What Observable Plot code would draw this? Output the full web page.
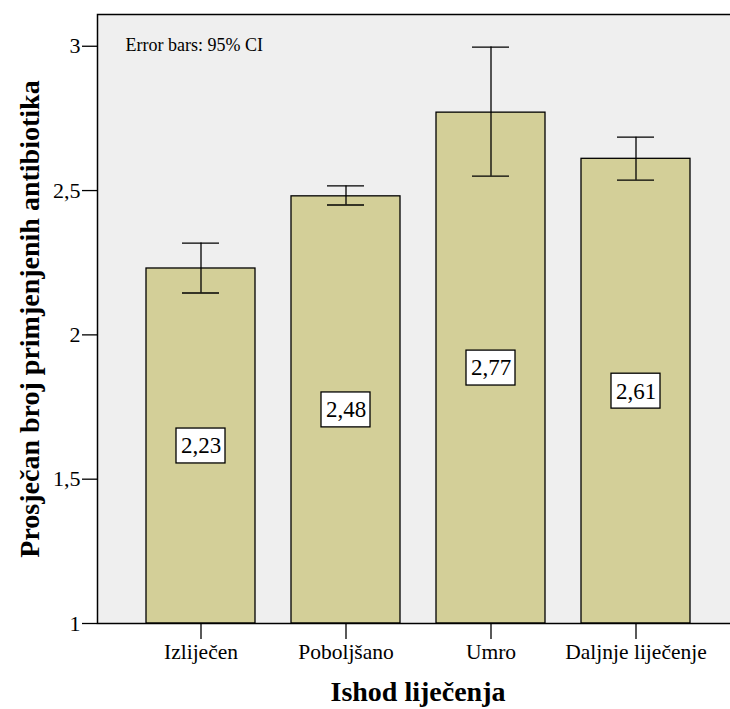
<!DOCTYPE html>
<html>
<head>
<meta charset="utf-8">
<script src="https://cdn.jsdelivr.net/npm/d3@7"></script>
<script src="https://cdn.jsdelivr.net/npm/@observablehq/plot@0.6"></script>
<style>
  html, body { margin: 0; padding: 0; background: #fff; }
</style>
</head>
<body>
<div id="chart"></div>
<script>
const categories = ["Izliječen", "Poboljšano", "Umro", "Daljnje liječenje"];
const means = [2.23, 2.48, 2.77, 2.61];
const ciLow = [2.145, 2.45, 2.55, 2.536];
const ciHigh = [2.318, 2.516, 2.997, 2.685];
const yTicks = [1, 1.5, 2, 2.5, 3];

const data = categories.map((c, i) => ({cat: c, mean: means[i], lo: ciLow[i], hi: ciHigh[i]}));
const fmt = v => String(v).replace(".", ",");
const FONT = "'Liberation Serif', 'Times New Roman', serif";
const boxHalf = 0.0605;

const chart = Plot.plot({
  width: 730,
  height: 709,
  marginLeft: 97,
  marginRight: -8,
  marginTop: 14,
  marginBottom: 86,
  style: {fontFamily: FONT, color: "black", background: "white"},
  x: {domain: categories, paddingInner: 0.25, paddingOuter: 0.335},
  y: {domain: [1, 3.11]},
  marks: [
    Plot.frame({fill: "#efefef", stroke: null}),
    Plot.barY(data, {x: "cat", y1: 1, y2: "mean", fill: "#d3cf98", stroke: "black", strokeWidth: 1.3}),
    Plot.ruleX(data, {x: "cat", y1: "lo", y2: "hi", stroke: "black", strokeWidth: 1.3}),
    Plot.tickY(data, {x: "cat", y: "lo", insetLeft: 36, insetRight: 36, stroke: "black", strokeWidth: 1.3}),
    Plot.tickY(data, {x: "cat", y: "hi", insetLeft: 36, insetRight: 36, stroke: "black", strokeWidth: 1.3}),
    Plot.barY(data, {x: "cat", y1: d => (1 + d.mean) / 2 - boxHalf, y2: d => (1 + d.mean) / 2 + boxHalf, insetLeft: 30, insetRight: 30, fill: "white", stroke: "black", strokeWidth: 1.3}),
    Plot.text(data, {x: "cat", y: d => (1 + d.mean) / 2, text: d => fmt(d.mean), fontSize: 23, fill: "black"}),
    Plot.text(["Error bars: 95% CI"], {frameAnchor: "top-left", dx: 28, dy: 31, lineAnchor: "middle", textAnchor: "start", fontSize: 18, fill: "black"}),
    Plot.axisY({ticks: yTicks, tickFormat: fmt, tickSize: 15, tickPadding: 2, fontSize: 22, label: null, strokeWidth: 1.3}),
    Plot.axisX({tickSize: 16, tickPadding: 4, fontSize: 21.5, label: null, strokeWidth: 1.3}),
    Plot.text(["Prosječan broj primjenjenih antibiotika"], {frameAnchor: "left", dx: -67, rotate: -90, textAnchor: "middle", lineAnchor: "middle", fontSize: 28, fontWeight: "bold", fill: "black"}),
    Plot.text(["Ishod liječenja"], {frameAnchor: "bottom", dy: 69, lineAnchor: "middle", fontSize: 28, fontWeight: "bold", fill: "black"}),
    Plot.frame({stroke: "black", strokeWidth: 1.5, fill: null})
  ]
});
document.getElementById("chart").appendChild(chart);
</script>
</body>
</html>
